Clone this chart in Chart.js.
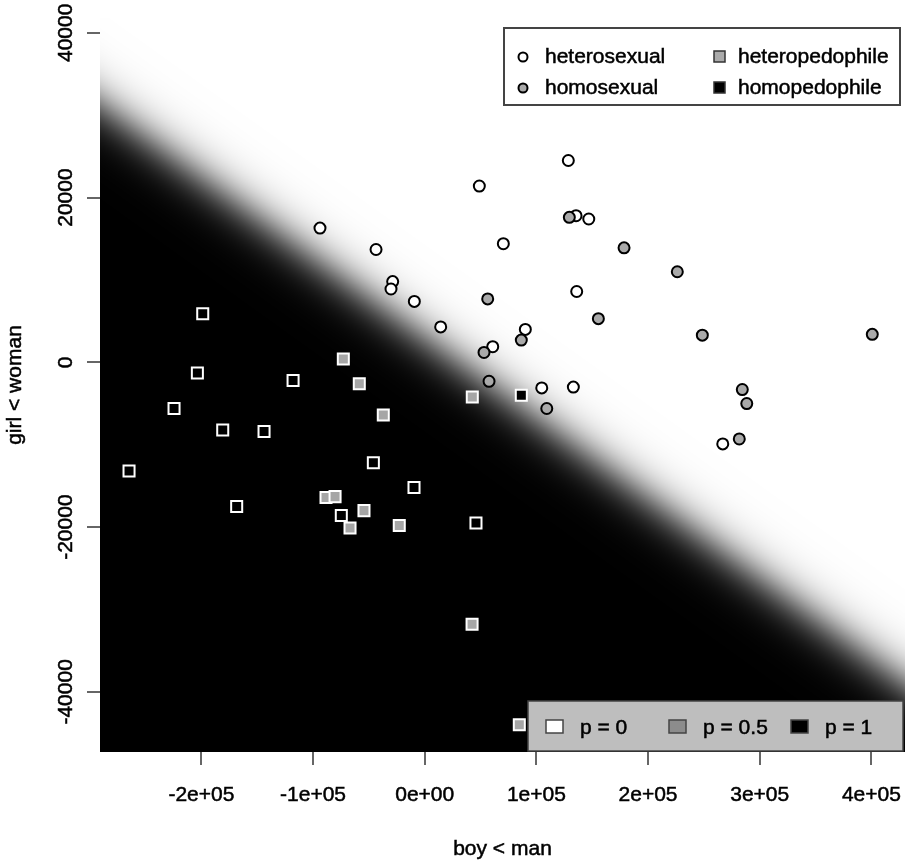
<!DOCTYPE html>
<html><head><meta charset="utf-8">
<script src="https://cdn.jsdelivr.net/npm/chart.js@4.4.1/dist/chart.umd.min.js"></script>
<style>html,body{margin:0;padding:0;background:#fff}#wrap{width:909px;height:865px}</style>
</head><body><div id="wrap"><canvas id="c" width="909" height="865"></canvas></div>
<script>
// ---- data ----
const heteroX = [-93800, -43600, -28700, -30200, -9300, 14300, 48900, 70400, 128600, 135500, 146900, 90100, 60900, 136100, 104800, 133100, 266900];
const heteroY = [16300, 13700, 9800, 8900, 7400, 4300, 21400, 14400, 24500, 17800, 17400, 4000, 1900, 8600, -3100, -3000, -9900];

const homoX = [129500, 178500, 226200, 56400, 155500, 86500, 53100, 57600, 109300, 248600, 400800, 284400, 288400, 281700];
const homoY = [17600, 13900, 11000, 7700, 5300, 2700, 1200, -2300, -5600, 3300, 3400, -3300, -5000, -9300];

const heteroPedoX = [-72900, -58600, -37100, -88400, -80300, -54400, -66900, -22800, 42400, 84700, 42600];
const heteroPedoY = [400, -2600, -6400, -16400, -16300, -18000, -20100, -19800, -31800, -44000, -4200];

const homoPedoX = [-198800, -203600, -117900, -224500, -180900, -143900, -264800, -46000, -9600, -168400, -74700, 45900, 86500];
const homoPedoY = [5900, -1300, -2200, -5600, -8200, -8400, -13200, -12200, -15200, -17500, -18600, -19500, -4000];

const seriesNames = ['heterosexual', 'homosexual', 'heteropedophile', 'homopedophile'];
const probLabels = ['p = 0', 'p = 0.5', 'p = 1'];

const xTicks = [-200000, -100000, 0, 100000, 200000, 300000, 400000];
const yTicks = [-40000, -20000, 0, 20000, 40000];
const xRange = [-290800, 430100];
const yRange = [-47300, 41800];
const xTitle = 'boy < man';
const yTitle = 'girl < woman';

// probability surface p = logistic(-k * (y - (b0 + b1*x)))
const boundaryIntercept = 2960;
const boundarySlope = -0.0973;
const steepness = 5.5e-4;

// ---- rendering ----
const FONT_FAMILY = '"Liberation Sans", Arial, Helvetica, sans-serif';
const FONT = '21px ' + FONT_FAMILY;
const STROKE_W = 0.5;
Chart.defaults.color = '#000';
Chart.defaults.font.family = FONT_FAMILY;

function sci(v) {
  if (v === 0) return '0e+00';
  const e = Math.floor(Math.log10(Math.abs(v)));
  const m = Math.round(v / Math.pow(10, e));
  return m + 'e' + (e < 0 ? '-' : '+') + String(Math.abs(e)).padStart(2, '0');
}
const pts = (xs, ys) => xs.map((x, i) => ({x: x, y: ys[i]}));
const noPad = s => { s.paddingLeft = 0; s.paddingRight = 0; s.paddingTop = 0; s.paddingBottom = 0; };
function text(ctx, str, x, y) {
  ctx.fillText(str, x, y);
  ctx.lineWidth = STROKE_W; ctx.strokeStyle = ctx.fillStyle; ctx.strokeText(str, x, y);
}

const surfacePlugin = {
  id: 'surface',
  beforeDatasetsDraw(chart) {
    const {ctx, chartArea: a, scales} = chart;
    const w = Math.round(a.right - a.left), h = Math.round(a.bottom - a.top);
    const off = document.createElement('canvas');
    off.width = w; off.height = h;
    const octx = off.getContext('2d');
    const img = octx.createImageData(w, h);
    const xv = new Float64Array(w);
    for (let i = 0; i < w; i++) xv[i] = scales.x.getValueForPixel(a.left + i + 0.5);
    for (let j = 0; j < h; j++) {
      const yv = scales.y.getValueForPixel(a.top + j + 0.5);
      for (let i = 0; i < w; i++) {
        const p = 1 / (1 + Math.exp(steepness * (yv - (boundaryIntercept + boundarySlope * xv[i]))));
        const g = Math.round(255 * (1 - p));
        const k = (j * w + i) * 4;
        img.data[k] = g; img.data[k + 1] = g; img.data[k + 2] = g; img.data[k + 3] = 255;
      }
    }
    octx.putImageData(img, 0, 0);
    ctx.save();
    ctx.drawImage(off, a.left, a.top, w, h);
    ctx.restore();
  }
};

const decorPlugin = {
  id: 'decor',
  afterDraw(chart) {
    const ctx = chart.ctx;
    const a = chart.chartArea;
    const ys = chart.scales.y;
    ctx.save();
    ctx.font = FONT; ctx.fillStyle = '#000'; ctx.textAlign = 'center'; ctx.textBaseline = 'middle';
    // y tick labels (parallel to axis)
    ys.ticks.forEach(t => {
      const py = ys.getPixelForValue(t.value);
      ctx.save(); ctx.translate(65, py); ctx.rotate(-Math.PI / 2);
      text(ctx, String(t.value), 0, 1); ctx.restore();
    });
    // axis titles
    text(ctx, xTitle, (a.left + a.right) / 2, 849);
    ctx.save(); ctx.translate(15, (a.top + a.bottom) / 2); ctx.rotate(-Math.PI / 2);
    text(ctx, yTitle, 0, 0); ctx.restore();
    // top legend
    ctx.fillStyle = '#fff'; ctx.fillRect(504, 28, 396, 77);
    ctx.strokeStyle = '#444'; ctx.lineWidth = 2; ctx.strokeRect(504, 28, 396, 77);
    const rowY = [57, 88];
    const circFill = ['#fff', '#aaaaaa'];
    const sqFill = ['#aaaaaa', '#000'];
    for (let r = 0; r < 2; r++) {
      ctx.beginPath(); ctx.arc(523, rowY[r], 4.5, 0, Math.PI * 2);
      ctx.fillStyle = circFill[r]; ctx.fill(); ctx.lineWidth = 2; ctx.strokeStyle = '#000'; ctx.stroke();
      ctx.fillStyle = sqFill[r]; ctx.fillRect(714, rowY[r] - 6, 11, 11);
      ctx.lineWidth = 1.5; ctx.strokeStyle = '#333'; ctx.strokeRect(714, rowY[r] - 6, 11, 11);
    }
    ctx.fillStyle = '#000'; ctx.textAlign = 'left'; ctx.textBaseline = 'middle';
    text(ctx, seriesNames[0], 545, rowY[0]);
    text(ctx, seriesNames[1], 545, rowY[1]);
    text(ctx, seriesNames[2], 738, rowY[0]);
    text(ctx, seriesNames[3], 738, rowY[1]);
    // bottom legend
    ctx.fillStyle = '#bebebe'; ctx.fillRect(528, 701, 375, 50);
    ctx.strokeStyle = '#444'; ctx.lineWidth = 1.5; ctx.strokeRect(528, 701, 375, 50);
    const bx = [554, 677, 799], tx = [580, 703, 825], bf = ['#fff', '#8c8c8c', '#000'];
    for (let i = 0; i < 3; i++) {
      ctx.fillStyle = bf[i]; ctx.fillRect(bx[i] - 8, 720, 17, 13);
      ctx.strokeStyle = '#444'; ctx.lineWidth = 1.5; ctx.strokeRect(bx[i] - 8, 720, 17, 13);
      ctx.fillStyle = '#000'; text(ctx, probLabels[i], tx[i], 728);
    }
    ctx.restore();
  }
};

new Chart(document.getElementById('c'), {
  type: 'scatter',
  data: {
    datasets: [
      {label: seriesNames[1], data: pts(homoX, homoY), order: 0, pointStyle: 'circle', pointRadius: 5.5,
       backgroundColor: '#aaaaaa', borderColor: '#000', borderWidth: 2},
      {label: seriesNames[0], data: pts(heteroX, heteroY), order: 1, pointStyle: 'circle', pointRadius: 5.5,
       backgroundColor: '#fff', borderColor: '#000', borderWidth: 2},
      {label: seriesNames[2], data: pts(heteroPedoX, heteroPedoY), order: 2, pointStyle: 'rect', pointRadius: 7.8,
       backgroundColor: '#a6a6a6', borderColor: '#fff', borderWidth: 2},
      {label: seriesNames[3], data: pts(homoPedoX, homoPedoY), order: 3, pointStyle: 'rect', pointRadius: 7.8,
       backgroundColor: '#000', borderColor: '#fff', borderWidth: 2}
    ]
  },
  options: {
    responsive: false, animation: false, events: [],
    layout: {autoPadding: false, padding: {left: 0, right: 4, top: 18, bottom: 0}},
    plugins: {legend: {display: false}, tooltip: {enabled: false}},
    scales: {
      x: {
        type: 'linear', min: xRange[0], max: xRange[1],
        afterBuildTicks: s => { s.ticks = xTicks.map(v => ({value: v})); },
        afterFit: s => { s.height = 113; noPad(s); },
        grid: {drawOnChartArea: false, drawTicks: true, tickLength: 13, color: '#666', lineWidth: 2},
        border: {display: false},
        ticks: {autoSkip: false, maxRotation: 0, minRotation: 0, padding: 18, color: '#000',
                textStrokeColor: '#000', textStrokeWidth: STROKE_W,
                font: {size: 21, family: FONT_FAMILY}, callback: v => sci(v)},
        title: {display: false}
      },
      y: {
        type: 'linear', min: yRange[0], max: yRange[1],
        afterBuildTicks: s => { s.ticks = yTicks.map(v => ({value: v})); },
        afterFit: s => { s.width = 100; noPad(s); },
        grid: {drawOnChartArea: false, drawTicks: true, tickLength: 13, color: '#666', lineWidth: 2},
        border: {display: false},
        ticks: {display: false},
        title: {display: false}
      }
    }
  },
  plugins: [surfacePlugin, decorPlugin]
});
</script>
</body></html>
